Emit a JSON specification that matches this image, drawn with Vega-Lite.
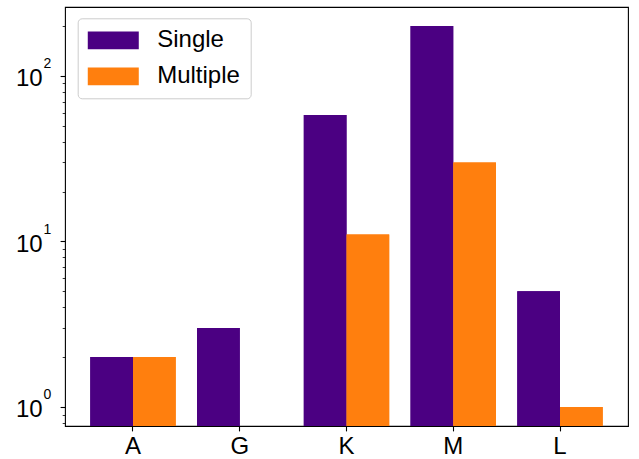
{
  "$schema": "https://vega.github.io/schema/vega-lite/v6.json",
  "autosize": "none",
  "width": 563,
  "height": 419,
  "padding": {"left": 65, "top": 7, "right": 11, "bottom": 33},
  "background": "white",
  "data": {
    "values": [
      {"category": "A", "series": "Single", "count": 2},
      {"category": "A", "series": "Multiple", "count": 2},
      {"category": "G", "series": "Single", "count": 3},
      {"category": "K", "series": "Single", "count": 58},
      {"category": "K", "series": "Multiple", "count": 11},
      {"category": "M", "series": "Single", "count": 200},
      {"category": "M", "series": "Multiple", "count": 30},
      {"category": "L", "series": "Single", "count": 5},
      {"category": "L", "series": "Multiple", "count": 1}
    ]
  },
  "encoding": {
    "x": {
      "field": "category",
      "type": "nominal",
      "sort": ["A", "G", "K", "M", "L"],
      "scale": {"paddingInner": 0.2, "paddingOuter": 0.237},
      "axis": {
        "title": null,
        "labelAngle": 0,
        "domain": false,
        "tickSize": 4.9,
        "tickWidth": 1.1,
        "tickColor": "#000000",
        "labelFontSize": 24,
        "labelPadding": 4,
        "labelColor": "#000000"
      }
    },
    "xOffset": {
      "field": "series",
      "type": "nominal",
      "sort": ["Single", "Multiple"],
      "scale": {"paddingInner": 0, "paddingOuter": 0}
    },
    "y2": {"datum": 0.767},
    "color": {
      "field": "series",
      "type": "nominal",
      "sort": ["Single", "Multiple"],
      "scale": {"domain": ["Single", "Multiple"], "range": ["#4b0082", "#ff7f0e"]},
      "legend": {
        "title": null,
        "orient": "none",
        "legendX": 12.7,
        "legendY": 11.3,
        "symbolType": "M-1.34,-1H4.39V1H-1.34Z",
        "symbolSize": 317,
        "symbolStrokeWidth": 0,
        "symbolOpacity": 1,
        "labelFontSize": 24,
        "labelColor": "#000000",
        "labelOffset": 45.5,
        "padding": 10,
        "rowPadding": 12,
        "strokeColor": "#cccccc",
        "fillColor": "rgba(255,255,255,0.8)",
        "cornerRadius": 4
      }
    }
  },
  "layer": [
    {
      "mark": {"type": "bar", "clip": true},
      "encoding": {
        "y": {
          "field": "count",
          "type": "quantitative",
          "scale": {"type": "log", "domain": [0.767, 260.7], "nice": false},
          "axis": {
            "title": null,
            "grid": false,
            "domain": false,
            "orient": "left",
            "values": [0.8, 0.9, 1, 2, 3, 4, 5, 6, 7, 8, 9, 10, 20, 30, 40, 50, 60, 70, 80, 90, 100, 200],
            "labelExpr": "datum.value == 1 || datum.value == 10 || datum.value == 100 ? '10' : ''",
            "tickSize": {"condition": {"test": "datum.value == 1 || datum.value == 10 || datum.value == 100", "value": 4.9}, "value": 2.8},
            "tickWidth": {"condition": {"test": "datum.value == 1 || datum.value == 10 || datum.value == 100", "value": 1.1}, "value": 0.8},
            "tickColor": "#000000",
            "labelFontSize": 24,
            "labelPadding": 18,
            "labelOffset": 3,
            "labelColor": "#000000"
          }
        }
      }
    },
    {
      "mark": {"type": "bar", "clip": true},
      "encoding": {
        "y": {
          "field": "count",
          "type": "quantitative",
          "scale": {"type": "log", "domain": [0.767, 260.7], "nice": false},
          "axis": {
            "title": null,
            "grid": false,
            "domain": false,
            "orient": "left",
            "values": [1, 10, 100],
            "labelExpr": "datum.value == 1 ? '0' : datum.value == 10 ? '1' : '2'",
            "ticks": false,
            "labelAlign": "left",
            "labelFontSize": 14,
            "labelPadding": 22,
            "labelOffset": -12,
            "labelColor": "#000000"
          }
        }
      }
    }
  ],
  "resolve": {"axis": {"y": "independent"}},
  "config": {
    "font": "Liberation Sans",
    "view": {"stroke": "#000000", "strokeWidth": 1.1},
    "bar": {"opacity": 1}
  }
}
